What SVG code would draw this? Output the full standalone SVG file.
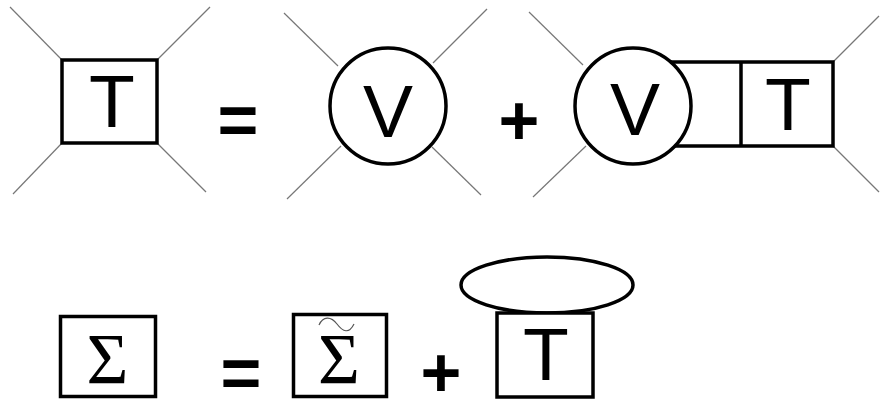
<svg xmlns="http://www.w3.org/2000/svg" width="881" height="400" viewBox="0 0 881 400">
<style>
.bx{fill:#fff;stroke:#000;stroke-width:3.5}
.leg{stroke:#777;stroke-width:1.2;fill:none}
.lbl{font-family:"Liberation Sans",Arial,sans-serif;font-size:75px;fill:#000;text-anchor:middle}
.op{font-family:"Liberation Sans",Arial,sans-serif;font-size:70px;font-weight:bold;fill:#000;text-anchor:middle}
.sig{font-family:"Liberation Serif","Times New Roman",serif;font-size:72px;fill:#000;text-anchor:middle}
</style>
<rect width="881" height="400" fill="#fff"/>
<g id="connectors">
<line class="leg" x1="10" y1="7" x2="62" y2="60"/>
<line class="leg" x1="210" y1="7" x2="157" y2="60"/>
<line class="leg" x1="13" y1="194" x2="62" y2="143"/>
<line class="leg" x1="206" y1="192" x2="157" y2="143"/>
<line class="leg" x1="284" y1="13" x2="338" y2="66"/>
<line class="leg" x1="487" y1="9" x2="433" y2="63"/>
<line class="leg" x1="287" y1="199" x2="341" y2="146"/>
<line class="leg" x1="481" y1="195" x2="432" y2="147"/>
<line class="leg" x1="529" y1="12" x2="583" y2="65"/>
<line class="leg" x1="533" y1="197" x2="586" y2="146"/>
<line class="leg" x1="879" y1="16" x2="833" y2="62"/>
<line class="leg" x1="879" y1="192" x2="833" y2="146"/>
</g>
<g id="t-box">
<rect class="bx" x="62" y="60" width="95" height="83"/>
<text class="lbl" x="112" y="127">T</text>
</g>
<g id="eq1"><text class="op" x="238" y="144">=</text></g>
<g id="v-circle">
<circle class="bx" cx="388" cy="106" r="58"/>
<text class="lbl" x="388" y="137">V</text>
</g>
<g id="plus1"><text class="op" x="519" y="145">+</text></g>
<g id="vt-box">
<rect class="bx" x="633" y="62" width="200" height="84"/>
<line stroke="#000" stroke-width="3.5" x1="741" y1="62" x2="741" y2="146"/>
<text class="lbl" x="788" y="130">T</text>
</g>
<g id="v-circle2">
<circle class="bx" cx="633" cy="106" r="58"/>
<text class="lbl" x="635" y="135">V</text>
</g>
<g id="sigma-box">
<rect class="bx" x="60.5" y="316.5" width="95" height="80"/>
<text class="sig" x="107.5" y="383">Σ</text>
</g>
<g id="eq2"><text class="op" x="241" y="397">=</text></g>
<g id="sigma-tilde-box">
<rect class="bx" x="293.5" y="314.5" width="93" height="82"/>
<text class="sig" x="339" y="383">Σ</text>
<path d="M319,325 C323,316 331,316 337,324 S349,334 354,324" fill="none" stroke="#555" stroke-width="1.2"/>
</g>
<g id="plus2"><text class="op" x="441" y="397">+</text></g>
<g id="loop">
<ellipse cx="547" cy="285" rx="86" ry="28" fill="none" stroke="#000" stroke-width="3.5"/>
</g>
<g id="t-box2">
<rect class="bx" x="497" y="313" width="96" height="84"/>
<text class="lbl" x="546" y="380">T</text>
</g>
</svg>
